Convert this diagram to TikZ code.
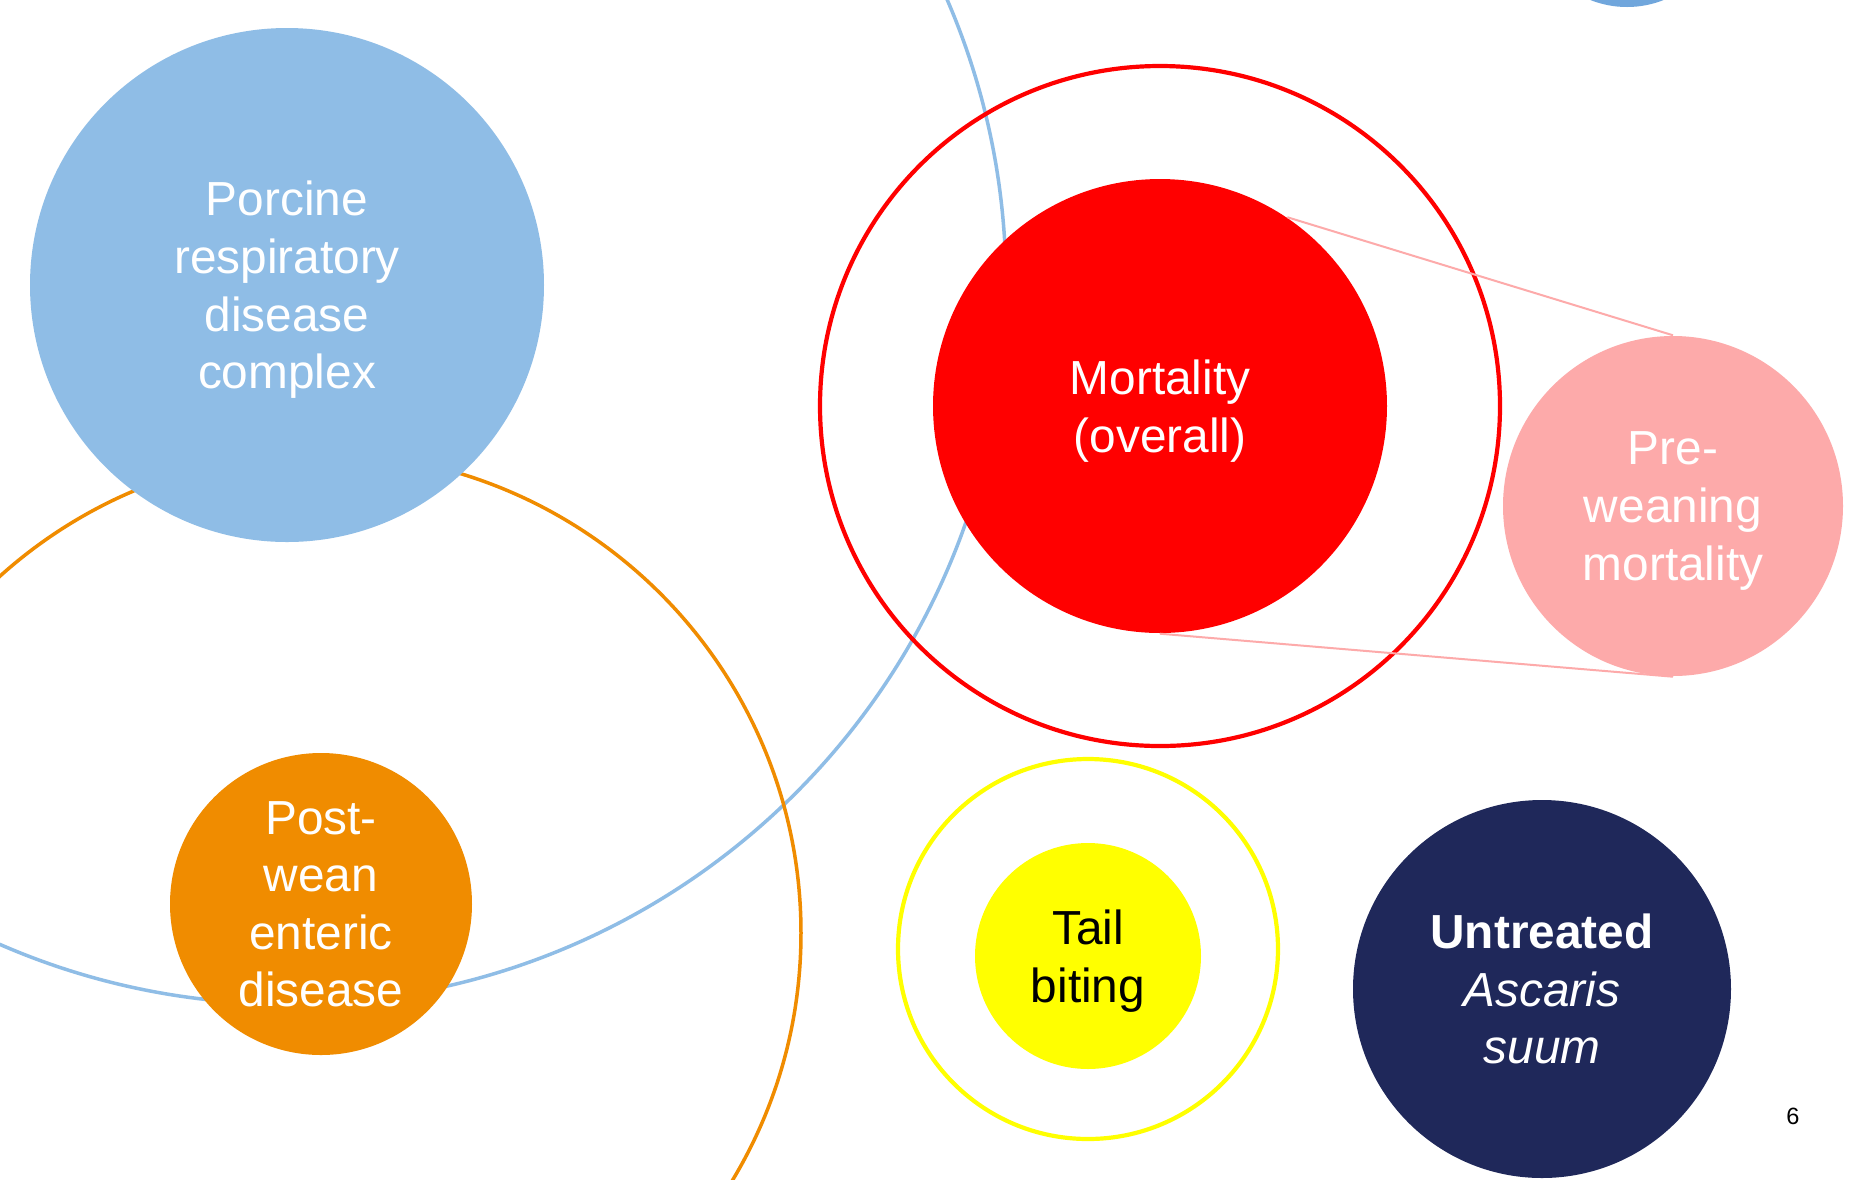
\documentclass[tikz,border=0pt]{standalone}
\usepackage{fontspec}
\setmainfont{Liberation Sans}
\definecolor{prdcblue}{RGB}{143,189,230}
\definecolor{cornerblue}{RGB}{112,166,220}
\definecolor{pwedorange}{RGB}{240,140,0}
\definecolor{mortred}{RGB}{255,0,0}
\definecolor{prewpink}{RGB}{253,170,170}
\definecolor{tailyellow}{RGB}{255,255,0}
\definecolor{ascarisnavy}{RGB}{31,40,90}

\begin{document}
\begin{tikzpicture}[x=0.1mm, y=-0.1mm, blob/.style={circle, draw=none, inner sep=0pt, align=center, text=white, text depth=-0.3mm}, ring/.style={circle, fill=none, inner sep=0pt, line width=0.42mm}, every node/.style={font=\fontsize{13.6pt}{16.4pt}\selectfont}]
	% Canvas
	\useasboundingbox (0,0) rectangle (1851,1179);
	\fill[white] (0,0) rectangle (1851,1179);
	\clip (0,0) rectangle (1851,1179);

	% Outer rings
	\node[ring, draw=prdcblue, line width=0.35mm, minimum size=143.8mm] (prdcring) at (287,285) {};
	\node[ring, draw=pwedorange, line width=0.35mm, minimum size=96mm] (pwedring) at (321,933) {};
	\node[ring, draw=mortred, minimum size=68mm] (mortring) at (1160,406) {};
	\node[ring, draw=tailyellow, minimum size=38mm] (tailring) at (1088,949) {};

	% Filled circles
	\node[blob, fill=cornerblue, minimum size=19.8mm] (corner) at (1627,-92) {};
	\node[blob, fill=prdcblue, minimum size=51.4mm] (prdc) at (287,285) {Porcine\\respiratory\\disease\\complex};
	\node[blob, fill=pwedorange, minimum size=30.2mm] (pwed) at (321,904) {Post-\\wean\\enteric\\disease};
	\node[blob, fill=mortred, minimum size=45.4mm] (mort) at (1160,406) {Mortality\\(overall)};
	\node[blob, fill=prewpink, minimum size=34mm] (prew) at (1673,506) {Pre-\\weaning\\mortality};
	\node[blob, fill=tailyellow, text=black, minimum size=22.6mm] (tail) at (1088,956) {Tail\\biting};
	\node[blob, fill=ascarisnavy, minimum size=37.8mm] (ascaris) at (1542,989) {\textbf{Untreated}\\\textit{Ascaris}\\\textit{suum}};

	% Zoom lines
	\draw[prewpink, line width=0.2mm] (mort.56) -- (prew.north);
	\draw[prewpink, line width=0.2mm] (mort.south) -- (prew.south);

	% Page number
	\node[font=\fontsize{6.7pt}{8pt}\selectfont] (pagenum) at (1793,1116) {6};
\end{tikzpicture}
\end{document}
